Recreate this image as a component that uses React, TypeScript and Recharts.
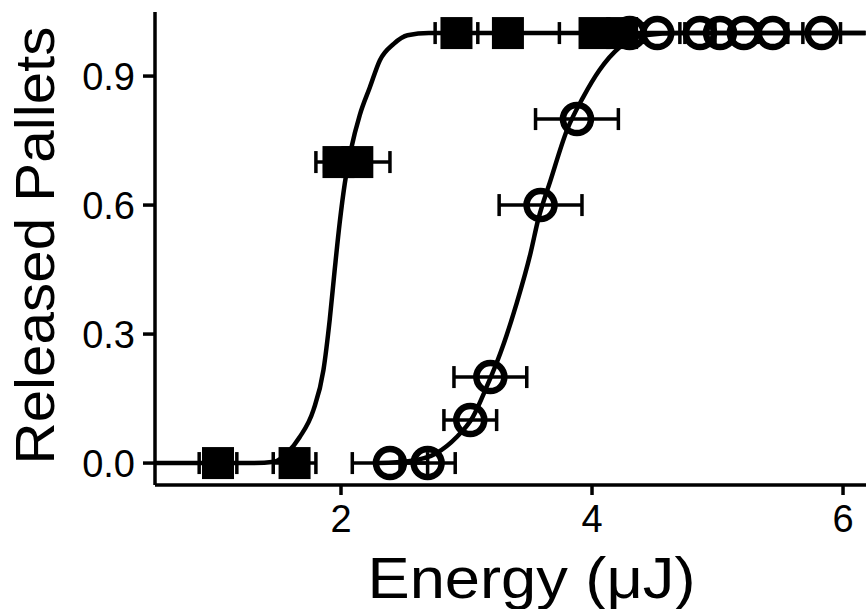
import { ComposedChart, Line, Scatter, XAxis, YAxis, ErrorBar, Label } from 'recharts';

const FONT = '"Liberation Sans", Arial, sans-serif';

// axis ticks
const xTicks = [2, 4, 6];
const yTicks = [0, 0.3, 0.6, 0.9];

// fitted curve for the filled squares
const fitSquares = [
  { x: 0.52, y: 0 },
  { x: 1.3, y: 0 },
  { x: 1.47, y: 0.003 },
  { x: 1.57, y: 0.023 },
  { x: 1.67, y: 0.06 },
  { x: 1.78, y: 0.123 },
  { x: 1.86, y: 0.216 },
  { x: 1.91, y: 0.333 },
  { x: 1.95, y: 0.45 },
  { x: 1.99, y: 0.56 },
  { x: 2.03, y: 0.65 },
  { x: 2.08, y: 0.73 },
  { x: 2.15, y: 0.81 },
  { x: 2.23, y: 0.874 },
  { x: 2.31, y: 0.937 },
  { x: 2.42, y: 0.975 },
  { x: 2.53, y: 0.995 },
  { x: 2.7, y: 1.0 },
  { x: 6.18, y: 1.0 },
];

// fitted curve for the open circles
const fitCircles = [
  { x: 2.3, y: 0 },
  { x: 2.55, y: 0.005 },
  { x: 2.76, y: 0.023 },
  { x: 2.92, y: 0.06 },
  { x: 3.05, y: 0.107 },
  { x: 3.16, y: 0.177 },
  { x: 3.27, y: 0.256 },
  { x: 3.4, y: 0.372 },
  { x: 3.51, y: 0.488 },
  { x: 3.57, y: 0.565 },
  { x: 3.67, y: 0.658 },
  { x: 3.8, y: 0.774 },
  { x: 3.93, y: 0.851 },
  { x: 4.06, y: 0.914 },
  { x: 4.22, y: 0.967 },
  { x: 4.42, y: 0.995 },
  { x: 4.7, y: 1.0 },
  { x: 6.18, y: 1.0 },
];

// measured points, ex = error in energy
const squares = [
  { x: 1.02, y: 0, ex: 0.15 },
  { x: 1.63, y: 0, ex: 0.17 },
  { x: 1.98, y: 0.7, ex: 0.18 },
  { x: 2.13, y: 0.7, ex: 0.26 },
  { x: 2.92, y: 1, ex: 0.17 },
  { x: 3.33, y: 1, ex: 0.1 },
  { x: 4.02, y: 1, ex: 0.28 },
  { x: 4.24, y: 1, ex: 0.1 },
];

const circles = [
  { x: 2.39, y: 0, ex: 0.3 },
  { x: 2.69, y: 0, ex: 0.22 },
  { x: 3.03, y: 0.1, ex: 0.21 },
  { x: 3.19, y: 0.2, ex: 0.29 },
  { x: 3.59, y: 0.6, ex: 0.33 },
  { x: 3.88, y: 0.8, ex: 0.33 },
  { x: 4.3, y: 1, ex: 0.1 },
  { x: 4.52, y: 1, ex: 0.18 },
  { x: 4.86, y: 1, ex: 0.12 },
  { x: 5.02, y: 1, ex: 0.1 },
  { x: 5.21, y: 1, ex: 0.1 },
  { x: 5.44, y: 1, ex: 0.12 },
  { x: 5.83, y: 1, ex: 0.15 },
];

const SquareDot = (props: any) => {
  const { cx, cy } = props;
  return <rect x={cx - 16} y={cy - 16} width={32} height={32} fill="#000" />;
};

const CircleDot = (props: any) => {
  const { cx, cy } = props;
  return <circle cx={cx} cy={cy} r={14} fill="none" stroke="#000" strokeWidth={6.5} />;
};

const XTitle = (props: any) => {
  const vb = props.viewBox;
  return (
    <text
      x={vb.x + vb.width / 2 + 21}
      y={vb.y + 113}
      textAnchor="middle"
      fontSize={57}
      fontFamily={FONT}
      fill="#000"
      textLength={328}
      lengthAdjust="spacingAndGlyphs"
    >
      Energy (μJ)
    </text>
  );
};

const YTitle = (props: any) => {
  const vb = props.viewBox;
  const x = vb.x + 54;
  const y = vb.y + vb.height / 2 - 3;
  return (
    <text
      x={x}
      y={y}
      transform={`rotate(-90, ${x}, ${y})`}
      textAnchor="middle"
      fontSize={56}
      fontFamily={FONT}
      fill="#000"
      textLength={438}
      lengthAdjust="spacingAndGlyphs"
    >
      Released Pallets
    </text>
  );
};

const tickStyle = { fill: '#000', fontSize: 38, fontFamily: FONT };
const axisStroke = { stroke: '#000', strokeWidth: 3.5 };

export default function App() {
  return (
    <div style={{ position: 'absolute', left: 0, top: 0, width: 866, height: 609, background: '#fff' }}>
      <ComposedChart width={866} height={609} margin={{ top: 12, right: 0, bottom: 0, left: 0 }}>
        <XAxis
          type="number"
          dataKey="x"
          domain={[0.518, 6.183]}
          allowDataOverflow
          ticks={xTicks}
          tick={tickStyle}
          tickSize={10}
          tickMargin={10}
          axisLine={axisStroke}
          tickLine={axisStroke}
          height={124}
        >
          <Label content={XTitle} />
        </XAxis>
        <YAxis
          type="number"
          dataKey="y"
          domain={[-0.051, 1.049]}
          allowDataOverflow
          ticks={yTicks}
          tickFormatter={(v: number) => v.toFixed(1)}
          tick={tickStyle}
          tickSize={12}
          tickMargin={8}
          axisLine={axisStroke}
          tickLine={axisStroke}
          width={155}
        >
          <Label content={YTitle} />
        </YAxis>

        <Line data={fitSquares} dataKey="y" type="monotone" stroke="#000" strokeWidth={4.5} dot={false} activeDot={false} isAnimationActive={false} />
        <Line data={fitCircles} dataKey="y" type="monotone" stroke="#000" strokeWidth={4.5} dot={false} activeDot={false} isAnimationActive={false} />

        <Scatter data={squares} dataKey="y" shape={SquareDot} isAnimationActive={false}>
          <ErrorBar dataKey="ex" direction="x" width={11} stroke="#000" strokeWidth={3.5} />
        </Scatter>
        <Scatter data={circles} dataKey="y" shape={CircleDot} isAnimationActive={false}>
          <ErrorBar dataKey="ex" direction="x" width={11} stroke="#000" strokeWidth={3.5} />
        </Scatter>
      </ComposedChart>
    </div>
  );
}
